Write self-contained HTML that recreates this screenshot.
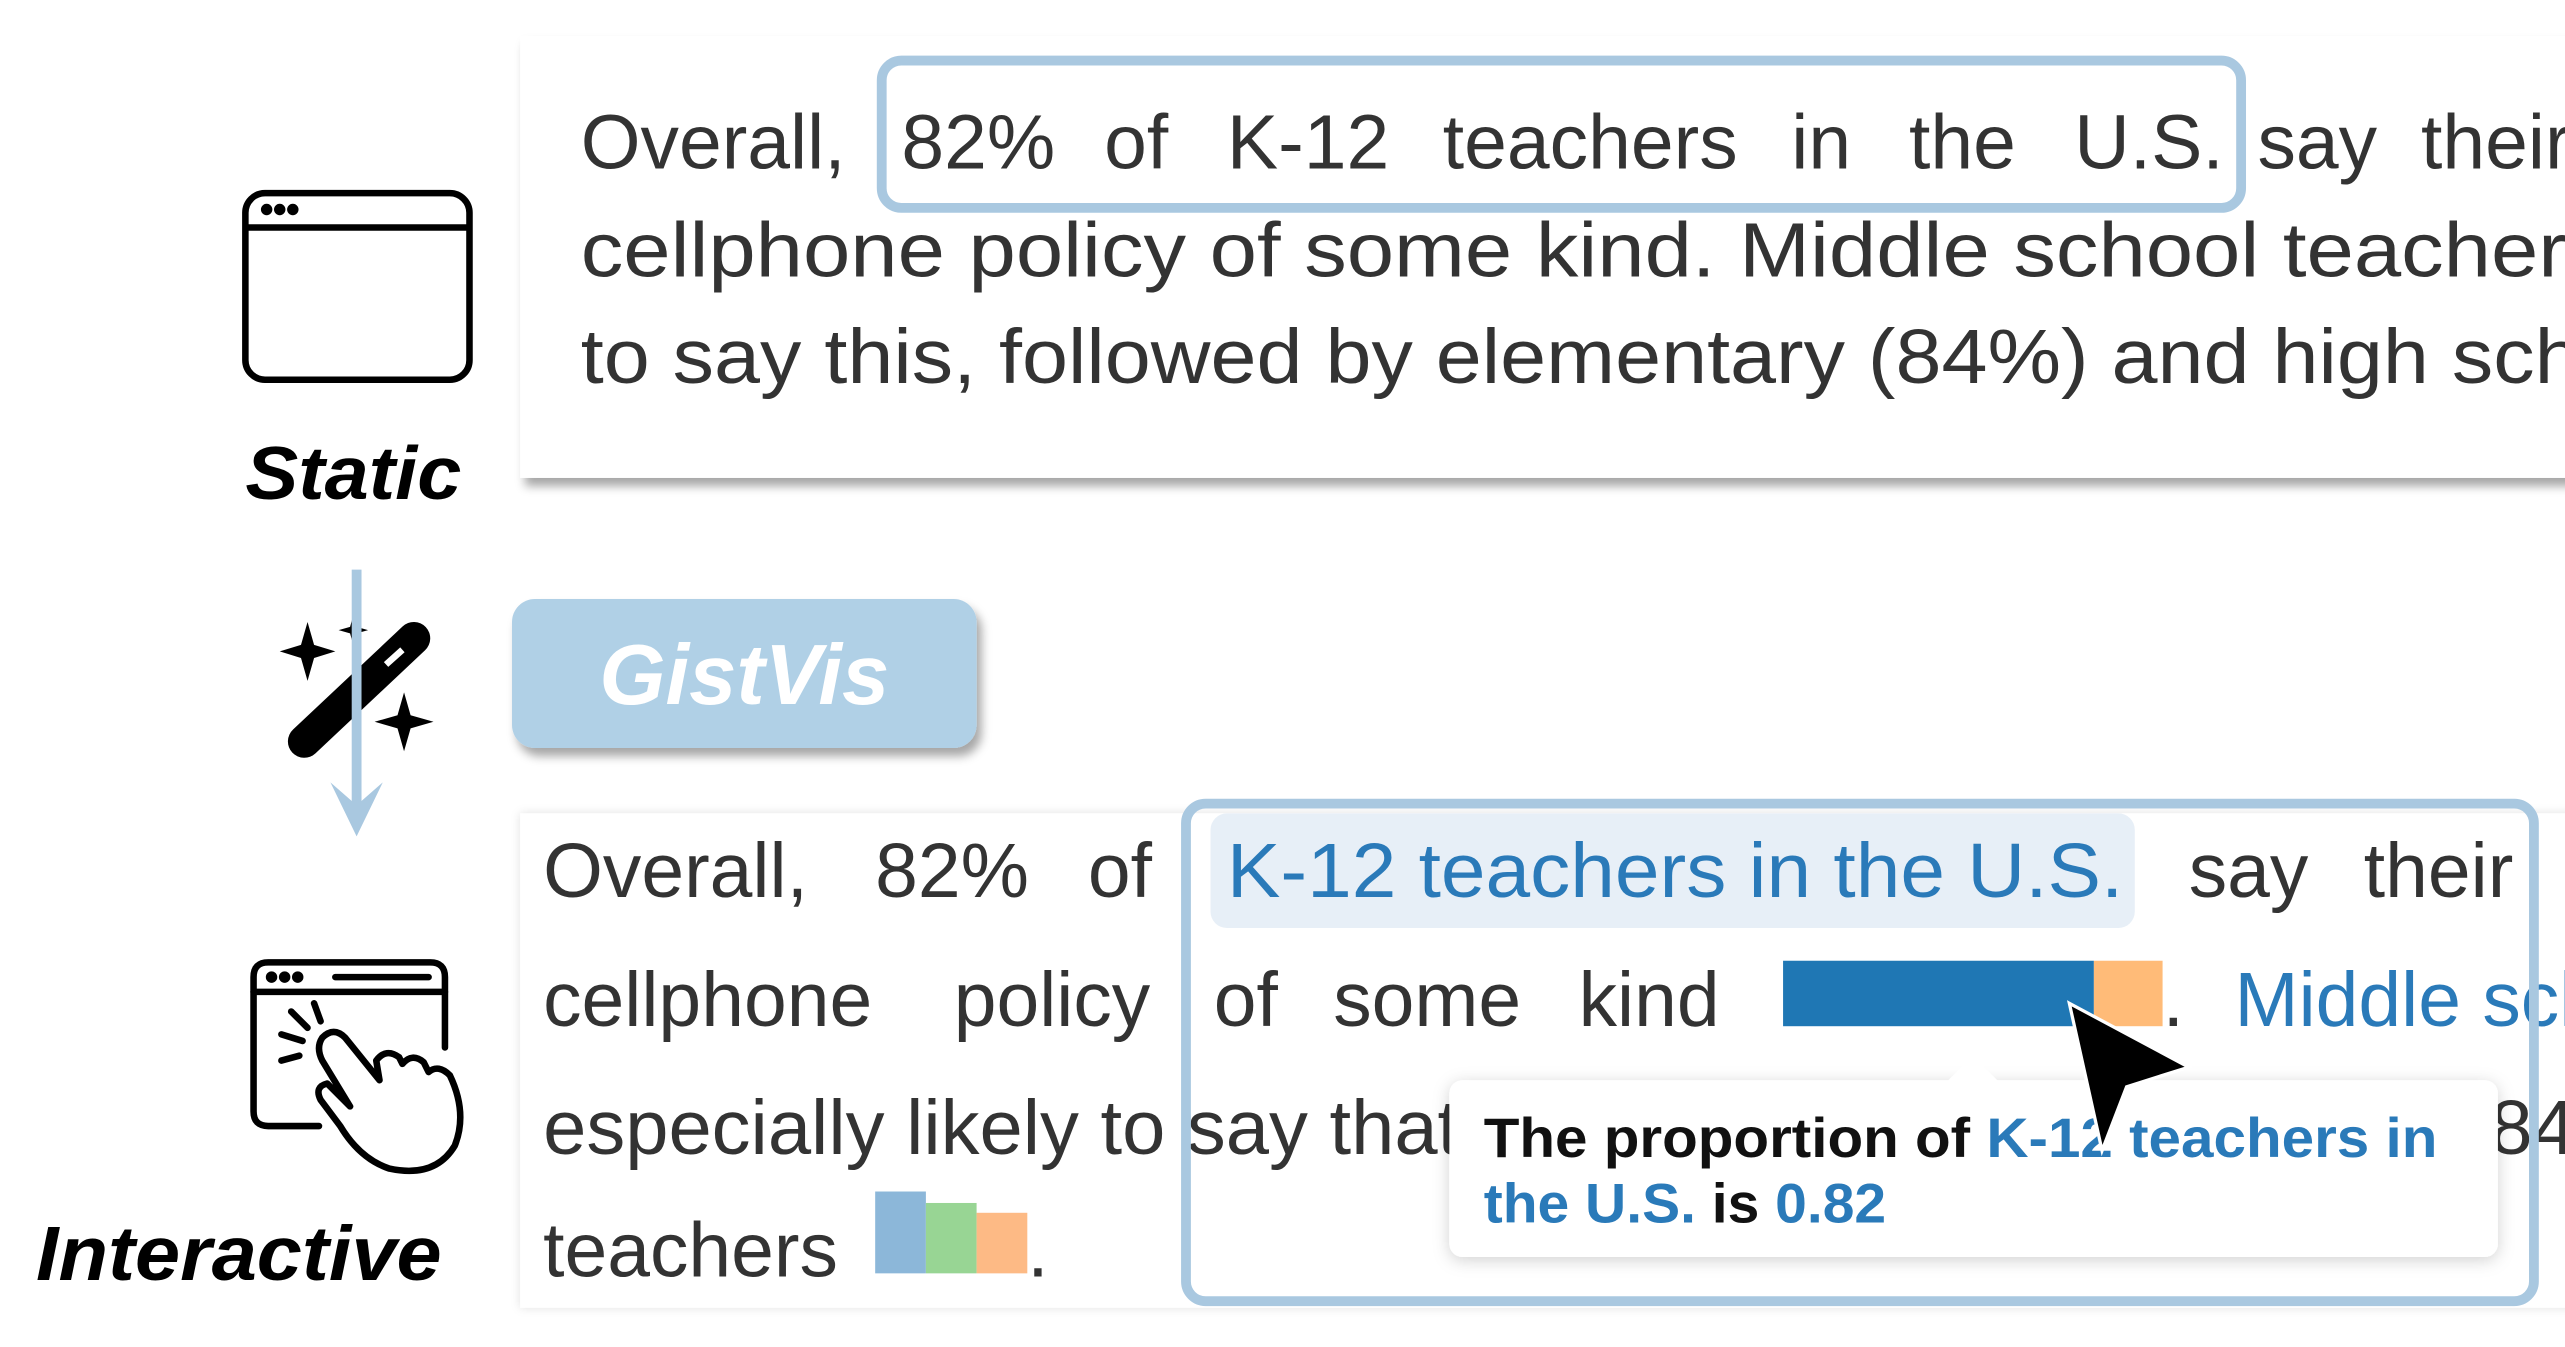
<!DOCTYPE html>
<html><head><meta charset="utf-8"><style>
html,body{margin:0;padding:0;background:#fff;overflow:hidden;}
svg{display:block;}
text{font-family:"Liberation Sans","DejaVu Sans",sans-serif;}
</style></head><body>
<svg width="2565" height="1347" viewBox="0 0 1568 823" preserveAspectRatio="none" xmlns="http://www.w3.org/2000/svg">
<defs>
<filter id="sh" x="-5%" y="-20%" width="110%" height="150%"><feDropShadow dx="3" dy="5" stdDeviation="3" flood-color="#000" flood-opacity="0.35"/></filter>
<filter id="sh2" x="-10%" y="-20%" width="120%" height="150%"><feDropShadow dx="0" dy="2" stdDeviation="5" flood-color="#000" flood-opacity="0.18"/></filter>
<filter id="sh3" x="-5%" y="-5%" width="110%" height="110%"><feDropShadow dx="0" dy="0" stdDeviation="3" flood-color="#000" flood-opacity="0.12"/></filter>
</defs>
<rect width="1568" height="823" fill="#fff"/>

<!-- Top static card -->
<g>
<rect x="318" y="22" width="1270" height="270" fill="#fff" filter="url(#sh)"/>
<g font-size="47" fill="#333">
<text x="355" y="103">Overall,</text>
<text x="551" y="103">82%</text>
<text x="675" y="103">of</text>
<text x="750" y="103">K-12</text>
<text x="882" y="103">teachers</text>
<text x="1095" y="103">in</text>
<text x="1167" y="103">the</text>
<text x="1268" y="103">U.S.</text>
<text x="1380" y="103">say</text>
<text x="1480" y="103">their</text>
<text x="355" y="169" textLength="1240" lengthAdjust="spacingAndGlyphs">cellphone policy of some kind. Middle school teachers</text>
<text x="355" y="234" textLength="1290" lengthAdjust="spacingAndGlyphs">to say this, followed by elementary (84%) and high school</text>
</g>
<rect x="539" y="37" width="831" height="90" rx="12" fill="none" stroke="#a9c8e0" stroke-width="6"/>
</g>

<!-- Static icon -->
<g fill="none" stroke="#000" stroke-width="4">
<rect x="150" y="118" width="137" height="114" rx="12"/>
<line x1="150" y1="139" x2="287" y2="139"/>
<circle cx="163" cy="128" r="1.5" fill="#000"/><circle cx="171" cy="128" r="1.5" fill="#000"/><circle cx="179" cy="128" r="1.5" fill="#000"/>
</g>
<text x="150" y="305" font-size="46" font-weight="bold" font-style="italic" fill="#000" textLength="132" lengthAdjust="spacingAndGlyphs">Static</text>

<!-- Arrow and wand -->
<g>
<g>
<line x1="186" y1="453" x2="253" y2="390" stroke="#000" stroke-width="20" stroke-linecap="round"/>
<line x1="236" y1="406" x2="246" y2="397" stroke="#fff" stroke-width="4"/>
<path d="M188 380 L192 394 L205 398 L192 402 L188 416 L184 402 L171 398 L184 394Z" fill="#000"/>
<path d="M216 376 L218 383 L225 385 L218 387 L216 394 L214 387 L207 385 L214 383Z" fill="#000"/>
<path d="M247 423 L251 437 L265 441 L251 445 L247 459 L243 445 L229 441 L243 437Z" fill="#000"/>
</g>
<line x1="218" y1="348" x2="218" y2="495" stroke="#a9c8e0" stroke-width="6"/>
<path d="M202 478 L218 511 L234 478 L218 492Z" fill="#a9c8e0"/>
</g>

<!-- GistVis button -->
<g>
<rect x="313" y="366" width="284" height="91" rx="14" fill="#b0d0e6" filter="url(#sh)"/>
<text x="455" y="430" font-size="52" font-weight="bold" font-style="italic" fill="#fff" text-anchor="middle">GistVis</text>
</g>

<!-- Bottom interactive card -->
<g>
<rect x="318" y="497" width="1270" height="302" fill="#fff" filter="url(#sh3)"/>
<rect x="740" y="497" width="565" height="70" rx="10" fill="#e7eff7"/>
<g font-size="47" fill="#333">
<text x="332" y="548">Overall,</text>
<text x="535" y="548">82%</text>
<text x="665" y="548">of</text>
<text x="750" y="548" fill="#2a7ab9" textLength="548" lengthAdjust="spacingAndGlyphs">K-12 teachers in the U.S.</text>
<text x="1338" y="548">say</text>
<text x="1445" y="548">their</text>
<text x="332" y="627">cellphone</text>
<text x="583" y="627">policy</text>
<text x="742" y="627">of</text>
<text x="815" y="627">some</text>
<text x="965" y="627">kind</text>
<text x="1322" y="627">.</text>
<text x="1366" y="627" fill="#2a7ab9">Middle school</text>
<text x="332" y="705" textLength="560" lengthAdjust="spacingAndGlyphs">especially likely to say that</text>
<text x="1522" y="705">84</text>
<text x="332" y="780">teachers</text>
<text x="628" y="780">.</text>
</g>
<g>
<rect x="1090" y="587" width="190" height="40" fill="#1f77b4"/>
<rect x="1280" y="587" width="42" height="40" fill="#ffbb78"/>
</g>
<g>
<rect x="535" y="728" width="31" height="50" fill="#8cb7d9"/>
<rect x="566" y="735" width="31" height="43" fill="#98d594"/>
<rect x="597" y="741" width="31" height="37" fill="#fdba85"/>
</g>
</g>

<!-- Tooltip -->
<g>
<rect x="886" y="660" width="641" height="108" rx="8" fill="#fff" filter="url(#sh2)"/>
<path d="M1190 661 L1206 645 L1222 661Z" fill="#fff"/>
<g font-size="34" font-weight="bold" fill="#111">
<text x="907" y="707" textLength="583" lengthAdjust="spacingAndGlyphs">The proportion of <tspan fill="#2a7ab9">K-12 teachers in</tspan></text>
<text x="907" y="747" textLength="246" lengthAdjust="spacingAndGlyphs"><tspan fill="#2a7ab9">the U.S.</tspan> is <tspan fill="#2a7ab9">0.82</tspan></text>
</g>
</g>

<rect x="725" y="491" width="824" height="304" rx="12" fill="none" stroke="#a9c8e0" stroke-width="6"/>

<!-- cursor -->
<path d="M1265 613 L1338 652 L1300 664 L1285 703Z" fill="#000" stroke="#fff" stroke-width="2"/>

<!-- Interactive icon -->
<g fill="none" stroke="#000" stroke-width="4" stroke-linecap="round" stroke-linejoin="round">
<path d="M195 688 L164 688 Q155 688 155 679 L155 597 Q155 588 164 588 L263 588 Q272 588 272 597 L272 640"/>
<line x1="155" y1="606" x2="272" y2="606"/>
<line x1="205" y1="597" x2="262" y2="597"/>
<circle cx="166" cy="597" r="1.5" fill="#000"/><circle cx="174" cy="597" r="1.5" fill="#000"/><circle cx="182" cy="597" r="1.5" fill="#000"/>
<line x1="172" y1="632" x2="185" y2="636"/><line x1="178" y1="618" x2="188" y2="628"/><line x1="192" y1="613" x2="196" y2="624"/><line x1="172" y1="648" x2="183" y2="645"/>
<path d="M197 634 Q204 627 211 634 L232 660 L230 648 Q236 640 244 646 L246 650 Q252 643 259 649 L262 655 Q268 650 275 657 Q286 680 278 700 Q266 720 238 714 Q220 708 208 688 L196 672 Q192 664 200 662 L214 676 L197 648 Q193 640 197 634Z"/>
</g>
<text x="22" y="782" font-size="47" font-weight="bold" font-style="italic" fill="#000" textLength="248" lengthAdjust="spacingAndGlyphs">Interactive</text>
</svg>
</body></html>
